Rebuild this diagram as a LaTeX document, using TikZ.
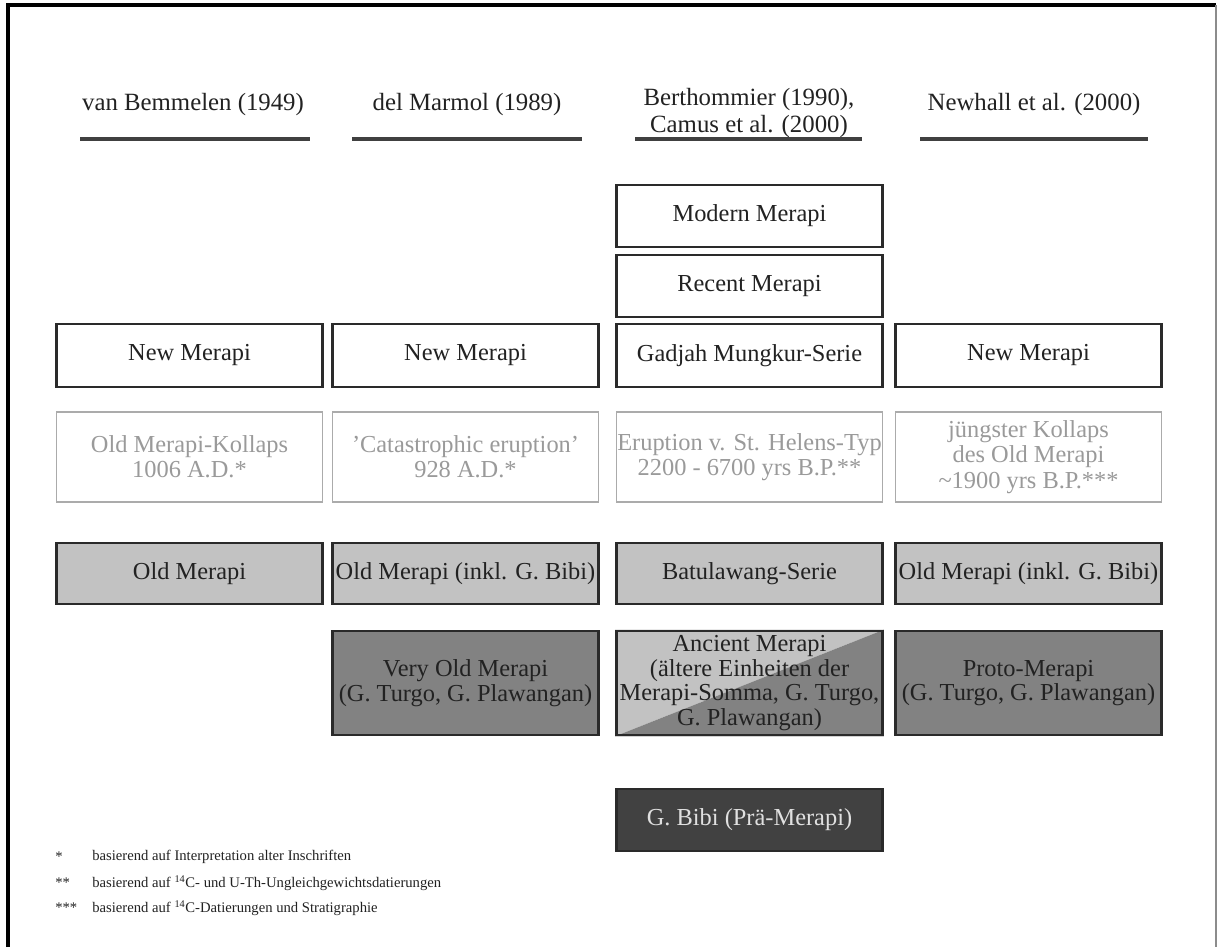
\documentclass[tikz,border=0pt]{standalone}
\usepackage{fontspec}
\setmainfont{Liberation Serif}
\usetikzlibrary{backgrounds}
\definecolor{txt}{HTML}{222222}
\definecolor{evtxt}{HTML}{9A9A9A}
\definecolor{evline}{HTML}{ABABAB}
\definecolor{lightfill}{HTML}{C2C2C2}
\definecolor{midfill}{HTML}{828282}
\definecolor{darkfill}{HTML}{414141}
\definecolor{boxline}{HTML}{2A2A2A}
\tikzset{
  cell/.style={draw=boxline, line width=1.9pt, minimum width=199.5pt, inner sep=0pt,
    align=center, text=txt, font=\fontsize{18.3}{18.5}\selectfont},
  h62/.style={minimum height=46.5pt},
  h63/.style={minimum height=47.2pt},
  h61/.style={minimum height=45.7pt},
  h104/.style={minimum height=78pt},
  evbox/.style={draw=evline, line width=1.4pt, minimum width=199.5pt, minimum height=67.5pt,
    inner sep=0pt, align=center, text=evtxt, font=\fontsize{18.3}{19}\selectfont},
  head/.style={align=center, text=txt, font=\fontsize{18.6}{20}\selectfont, inner sep=0pt},
  headline/.style={draw=black!75, line width=2.6pt},
  note/.style={anchor=west, text=txt, font=\fontsize{11}{13}\selectfont, inner sep=0pt},
}
\begin{document}
\begin{tikzpicture}[x=0.75pt, y=-0.75pt]
\useasboundingbox (0,0) rectangle (1218,947);
\begin{scope}[on background layer]
\fill[white] (0,0) rectangle (1218,947);
\end{scope}
% frame
\draw[line width=2.4pt, black] (8,947) -- (8,5) -- (1216,5);
\draw[line width=0.8pt, black!45] (1216,5) -- (1216,947);

% headers
\node[head] (h1) at (193,105) {van Bemmelen (1949)};
\node[head] (h2) at (467,105) {del Marmol (1989)};
\node[head] (h3) at (749,113) {Berthommier (1990),\\Camus et al. (2000)};
\node[head] (h4) at (1034,105) {Newhall et al. (2000)};
\coordinate (l1a) at (80,139); \coordinate (l1b) at (310,139);
\coordinate (l2a) at (352,139); \coordinate (l2b) at (582,139);
\coordinate (l3a) at (635,139); \coordinate (l3b) at (862,139);
\coordinate (l4a) at (920,139); \coordinate (l4b) at (1148,139);
\draw[headline] (l1a) -- (l1b);
\draw[headline] (l2a) -- (l2b);
\draw[headline] (l3a) -- (l3b);
\draw[headline] (l4a) -- (l4b);

% column 3 top
\node[cell,h62] (modern) at (749.5,216) {Modern Merapi};
\node[cell,h62] (recent) at (749.5,286) {Recent Merapi};

% New Merapi row
\node[cell,h63] (new1) at (189.5,355.5) {New Merapi};
\node[cell,h63] (new2) at (465.5,355.5) {New Merapi};
\node[cell,h63] (new3) at (749.5,355.5) {Gadjah Mungkur-Serie};
\node[cell,h63] (new4) at (1028.5,355.5) {New Merapi};

% events row
\node[evbox] (ev1) at (189.5,457) {Old Merapi-Kollaps\\1006 A.D.*};
\node[evbox] (ev2) at (465.5,457) {'Catastrophic eruption'\\928 A.D.*};
\node[evbox] (ev3) at (749.5,457) {Eruption v. St. Helens-Typ\\2200 - 6700 yrs B.P.**};
\node[evbox] (ev4) at (1028.5,457) {jüngster Kollaps\\des Old Merapi\\\textasciitilde1900 yrs B.P.***};

% Old Merapi row
\node[cell,h61,fill=lightfill] (old1) at (189.5,573.5) {Old Merapi};
\node[cell,h61,fill=lightfill] (old2) at (465.5,573.5) {Old Merapi (inkl. G. Bibi)};
\node[cell,h61,fill=lightfill] (old3) at (749.5,573.5) {Batulawang-Serie};
\node[cell,h61,fill=lightfill] (old4) at (1028.5,573.5) {Old Merapi (inkl. G. Bibi)};

% very old row
\node[cell,h104,fill=midfill] (vo2) at (465.5,683) {Very Old Merapi\\(G. Turgo, G. Plawangan)};
\node[cell,h104] (vo3) at (749.5,683) {Ancient Merapi\\(ältere Einheiten der\\Merapi-Somma, G. Turgo,\\G. Plawangan)};
\node[cell,h104,fill=midfill] (vo4) at (1028.5,683) {Proto-Merapi\\(G. Turgo, G. Plawangan)};
\begin{scope}[on background layer]
\fill[lightfill] (vo3.north west) -- (vo3.north east) -- (vo3.south west) -- cycle;
\fill[midfill] (vo3.north east) -- (vo3.south east) -- (vo3.south west) -- cycle;
\end{scope}

% G. Bibi
\node[cell,h62,fill=darkfill,text=white!88!black] (bibi) at (749.5,820) {G. Bibi (Prä-Merapi)};

% footnotes
\node[note] (s1) at (55,857) {*};
\node[note] (t1) at (92,857) {basierend auf Interpretation alter Inschriften};
\node[note] (s2) at (55,883) {**};
\node[note] (t2) at (92,883) {basierend auf \textsuperscript{14}C- und U-Th-Ungleichgewichtsdatierungen};
\node[note] (s3) at (55,908) {***};
\node[note] (t3) at (92,908) {basierend auf \textsuperscript{14}C-Datierungen und Stratigraphie};
\end{tikzpicture}
\end{document}
